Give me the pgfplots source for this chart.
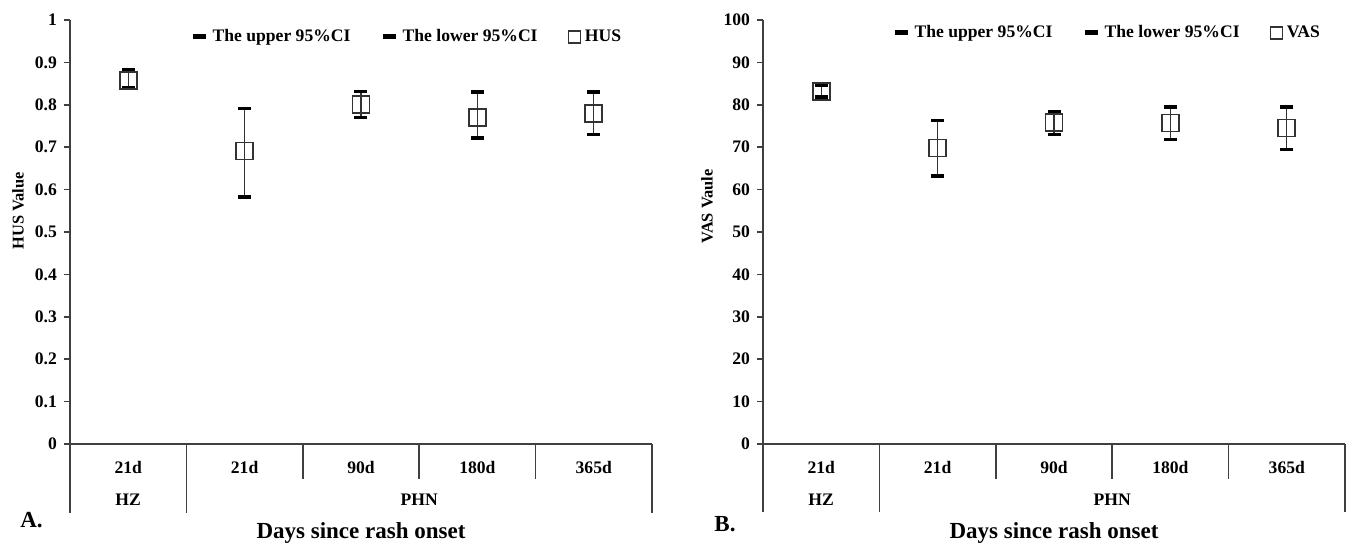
\documentclass[border=0pt]{standalone}
\usepackage{fontspec}
\setmainfont{Liberation Serif}
\usepackage{pgfplots}
\usepackage{pgfplotstable}
\pgfplotsset{compat=1.18}

% mean, lower and upper 95% CI per group
\pgfplotstableread{
x   m     lo    hi
0.5 0.858 0.840 0.882
1.5 0.691 0.582 0.791
2.5 0.801 0.770 0.831
3.5 0.770 0.721 0.830
4.5 0.780 0.730 0.830
}\hus
\pgfplotstableread{
x   m    lo   hi
0.5 83.1 81.8 84.6
1.5 69.8 63.2 76.3
2.5 75.9 73.0 78.3
3.5 75.7 71.8 79.5
4.5 74.5 69.5 79.5
}\vas

\newcommand{\tf}{\fontsize{8.8}{10}\selectfont\bfseries}
\newcommand{\bigf}{\fontsize{11.5}{13}\selectfont\bfseries}
\definecolor{axgray}{RGB}{64,64,64}

\tikzset{sepline/.style={line width=0.75pt, axgray}}
\pgfplotsset{
  panel/.style={
    scale only axis, width=291pt, height=212pt,
    xmin=0, xmax=5, xtick=\empty, ymin=0,
    axis lines=left, axis line style={-, line width=0.75pt, draw=axgray},
    tick align=outside, major tick length=3pt,
    ytick style={line width=0.75pt, draw=axgray},
    yticklabel={\pgfmathprintnumber[assume math mode=true]{\tick}},
    yticklabel style={font=\tf},
    clip=false,
    xlabel style={font=\bigf, at={([yshift=-44.5pt]axis description cs:0.5,0)}, anchor=center},
    ylabel style={font=\fontsize{8.2}{9}\selectfont\bfseries, anchor=center},
    legend columns=3,
    legend style={draw=none, fill=none, anchor=west, font=\tf, inner sep=0pt,
      /tikz/every even column/.append style={column sep=13pt}},
    legend cell align=left,
  },
  cap/.style={only marks, mark=-, mark size=3.25pt, mark options={line width=1.8pt, black},
    legend image code/.code={\draw[line width=2.6pt,black] (0pt,0.3pt) -- (6.5pt,0.3pt);}},
  mean/.style={only marks, mark=square, mark size=4.25pt,
    mark options={line width=0.85pt, draw=black!80, fill=none},
    legend image code/.code={\draw[line width=0.65pt,black!80] (0pt,-3pt) rectangle (6pt,3pt);},
    error bars/.cd, y dir=both, y explicit, error mark=none,
    error bar style={line width=0.6pt, black!80}},
}

\begin{document}
\begin{tikzpicture}
\path[use as bounding box] (-35pt,-50.5pt) rectangle (651pt,222pt);

% ---- panel A ----
\begin{axis}[panel, at={(0,0)}, anchor=south west,
  ymax=1, ytick={0,0.1,0.2,0.3,0.4,0.5,0.6,0.7,0.8,0.9,1},
  /pgf/number format/.cd, fixed, precision=1, /pgfplots/.cd,
  ylabel={HUS Value}, ylabel style={at={([xshift=-26pt]axis description cs:0,0.55)}},
  xlabel={Days since rash onset},
  legend style={at={([xshift=60pt,yshift=-8.5pt]rel axis cs:0,1)}}]
\addplot[cap] table[x=x, y=hi] \hus;
\addlegendentry{The upper 95\%CI}
\addplot[cap] table[x=x, y=lo] \hus;
\addlegendentry{The lower 95\%CI}
\addplot[mean] table[x=x, y=m, y error plus expr=\thisrow{hi}-\thisrow{m},
  y error minus expr=\thisrow{m}-\thisrow{lo}] \hus;
\addlegendentry{HUS}
\draw[sepline] (axis cs:0,0) -- ++(0,-34.5pt);
\draw[sepline] (axis cs:1,0) -- ++(0,-34.5pt);
\draw[sepline] (axis cs:2,0) -- ++(0,-17.5pt);
\draw[sepline] (axis cs:3,0) -- ++(0,-17.5pt);
\draw[sepline] (axis cs:4,0) -- ++(0,-17.5pt);
\draw[sepline] (axis cs:5,0) -- ++(0,-34.5pt);
\node[font=\tf] at ([yshift=-11.5pt]axis cs:0.5,0) {21d};
\node[font=\tf] at ([yshift=-11.5pt]axis cs:1.5,0) {21d};
\node[font=\tf] at ([yshift=-11.5pt]axis cs:2.5,0) {90d};
\node[font=\tf] at ([yshift=-11.5pt]axis cs:3.5,0) {180d};
\node[font=\tf] at ([yshift=-11.5pt]axis cs:4.5,0) {365d};
\node[font=\tf] at ([yshift=-28pt]axis cs:0.5,0) {HZ};
\node[font=\tf] at ([yshift=-28pt]axis cs:3,0) {PHN};
\node[font=\bigf] at ([xshift=-19.25pt,yshift=-38pt]axis cs:0,0) {A.};
\end{axis}

% ---- panel B ----
\begin{axis}[panel, at={(346.5pt,0)}, anchor=south west,
  ymax=100, ytick={0,10,20,30,40,50,60,70,80,90,100},
  ylabel={VAS Vaule}, ylabel style={at={([xshift=-28pt]axis description cs:0,0.56)}},
  xlabel={Days since rash onset},
  legend style={at={([xshift=64.5pt,yshift=-6.5pt]rel axis cs:0,1)}}]
\addplot[cap] table[x=x, y=hi] \vas;
\addlegendentry{The upper 95\%CI}
\addplot[cap] table[x=x, y=lo] \vas;
\addlegendentry{The lower 95\%CI}
\addplot[mean] table[x=x, y=m, y error plus expr=\thisrow{hi}-\thisrow{m},
  y error minus expr=\thisrow{m}-\thisrow{lo}] \vas;
\addlegendentry{VAS}
\draw[sepline] (axis cs:0,0) -- ++(0,-34pt);
\draw[sepline] (axis cs:1,0) -- ++(0,-34pt);
\draw[sepline] (axis cs:2,0) -- ++(0,-17.5pt);
\draw[sepline] (axis cs:3,0) -- ++(0,-17.5pt);
\draw[sepline] (axis cs:4,0) -- ++(0,-17.5pt);
\draw[sepline] (axis cs:5,0) -- ++(0,-34pt);
\node[font=\tf] at ([yshift=-11.5pt]axis cs:0.5,0) {21d};
\node[font=\tf] at ([yshift=-11.5pt]axis cs:1.5,0) {21d};
\node[font=\tf] at ([yshift=-11.5pt]axis cs:2.5,0) {90d};
\node[font=\tf] at ([yshift=-11.5pt]axis cs:3.5,0) {180d};
\node[font=\tf] at ([yshift=-11.5pt]axis cs:4.5,0) {365d};
\node[font=\tf] at ([yshift=-28pt]axis cs:0.5,0) {HZ};
\node[font=\tf] at ([yshift=-28pt]axis cs:3,0) {PHN};
\node[font=\bigf] at ([xshift=-19pt,yshift=-40pt]axis cs:0,0) {B.};
\end{axis}
\end{tikzpicture}
\end{document}
